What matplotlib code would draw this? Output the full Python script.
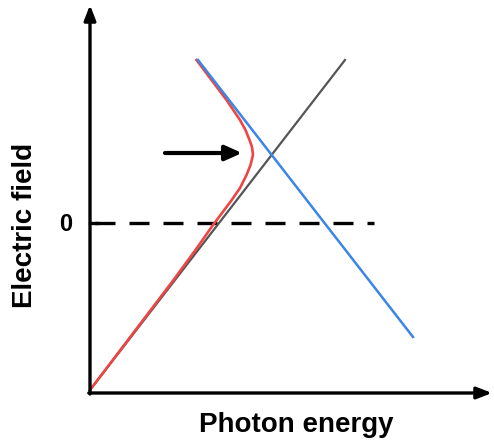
import numpy as np
import matplotlib.pyplot as plt

# field on the vertical axis, photon energy on the horizontal (arbitrary units)
gray_E = [0.0, 2.55]
gray_F = [-1.67, 1.63]

blue_E = [1.08, 3.23]
blue_F = [1.63, -1.14]

# lower branch of the anticrossing
red_E = [0.0, 0.835, 1.055, 1.23, 1.32, 1.41, 1.50, 1.565, 1.605, 1.63,
         1.62, 1.595, 1.555, 1.50, 1.365, 1.065]
red_F = [-1.67, -0.57, -0.27, -0.02, 0.10, 0.22, 0.35, 0.48, 0.58, 0.68,
         0.76, 0.83, 0.93, 1.03, 1.23, 1.63]

zero_line_E = [0.05, 2.84]

fig = plt.figure(figsize=(4.94, 4.40), dpi=100)
ax = fig.add_axes([0, 0, 1, 1])
ax.set_xlim(-0.90, 4.04)
ax.set_ylim(-2.17, 2.23)
ax.axis('off')

# axes with arrow heads
ax.annotate('', xy=(0, 2.18), xytext=(0, -1.71),
            arrowprops=dict(arrowstyle='-|>,head_length=0.9,head_width=0.35',
                            color='black', lw=2.4, shrinkA=0, shrinkB=0))
ax.annotate('', xy=(4.02, -1.70), xytext=(-0.012, -1.70),
            arrowprops=dict(arrowstyle='-|>,head_length=0.9,head_width=0.35',
                            color='black', lw=2.4, shrinkA=0, shrinkB=0))
ax.plot([0, 0.07], [0, 0], color='black', lw=2.4)

ax.plot(zero_line_E, [0, 0], color='black', lw=2.4, dashes=(6, 4.2))

ax.plot(gray_E, gray_F, color='#555555', lw=1.6)
ax.plot(red_E, red_F, color='#ee4545', lw=1.9, solid_joinstyle='round')
ax.plot(blue_E, blue_F, color='#3a86e6', lw=1.8)

# arrow pointing at the anticrossing
ax.annotate('', xy=(1.52, 0.70), xytext=(0.75, 0.70),
            arrowprops=dict(arrowstyle='-|>,head_length=1.0,head_width=0.45',
                            color='black', lw=3.0, shrinkA=0, shrinkB=0))

ax.text(-0.24, -0.01, '0', fontsize=17, fontweight='bold', family='Liberation Sans',
        ha='center', va='center')
ax.text(-0.65, -0.02, 'Electric field', fontsize=20, fontweight='bold',
        family='Liberation Sans', rotation=90, ha='center', va='center')
ax.text(2.06, -2.02, 'Photon energy', fontsize=20, fontweight='bold',
        family='Liberation Sans', ha='center', va='center')

fig.savefig('out.png', dpi=100)
